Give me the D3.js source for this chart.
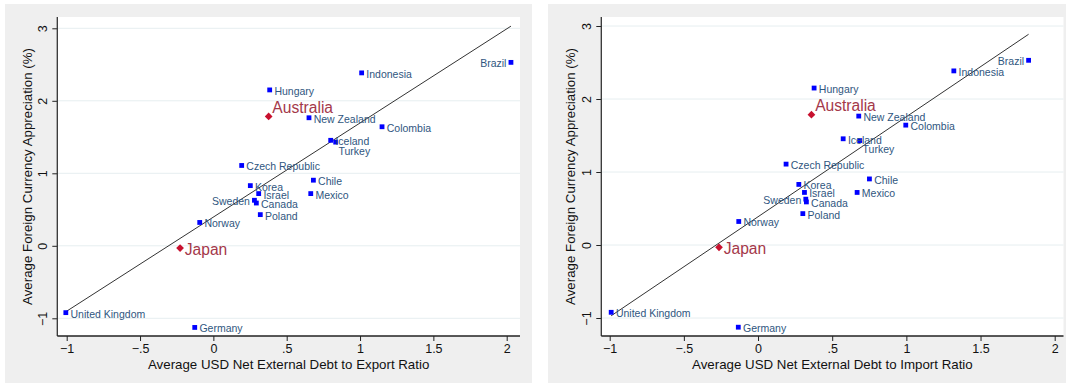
<!DOCTYPE html>
<html>
<head>
<meta charset="utf-8">
<script src="https://cdn.jsdelivr.net/npm/d3@7"></script>
<style>
  html, body { margin: 0; padding: 0; background: #ffffff; }
  svg { display: block; font-family: "Liberation Sans", Arial, Helvetica, sans-serif; }
</style>
</head>
<body>
<svg id="chart" width="1068" height="387"></svg>
<script>
// Countries and their averages
const countries = ["Brazil", "Indonesia", "Hungary", "Australia", "New Zealand", "Colombia",
  "Iceland", "Turkey", "Czech Republic", "Chile", "Korea", "Israel", "Mexico", "Sweden",
  "Canada", "Poland", "Norway", "Japan", "United Kingdom", "Germany"];

// Average USD net external debt relative to exports
const debtToExport = [2.029, 1.011, 0.384, 0.377, 0.652, 1.150, 0.800, 0.834, 0.193, 0.682,
  0.252, 0.309, 0.664, 0.280, 0.293, 0.320, -0.093, -0.227, -1.006, -0.127];

// Average USD net external debt relative to imports
const debtToImport = [1.824, 1.320, 0.378, 0.360, 0.679, 0.996, 0.574, 0.686, 0.189, 0.751,
  0.275, 0.313, 0.668, 0.322, 0.326, 0.302, -0.130, -0.263, -0.990, -0.133];

// Average foreign currency appreciation (%)
const appreciation = [2.530, 2.385, 2.150, 1.785, 1.766, 1.642, 1.455, 1.430, 1.108, 0.905,
  0.830, 0.720, 0.720, 0.628, 0.590, 0.430, 0.322, -0.032, -0.922, -1.126];

const highlighted = ["Australia", "Japan"];

const xTicks = [-1, -0.5, 0, 0.5, 1, 1.5, 2];
const yTicks = [-1, 0, 1, 2, 3];

const xTitles = ["Average USD Net External Debt to Export Ratio",
                 "Average USD Net External Debt to Import Ratio"];
const yTitle = "Average Foreign Currency Appreciation (%)";

// Stata-style number labels: no leading zero, true minus sign
const fmt = v => {
  let s = String(Math.abs(v)).replace(/^0\./, ".");
  return (v < 0 ? "\u2212" : "") + s;
};

// Marker label placement (clock positions)
const labelClock = { "Brazil": 9, "Sweden": 9, "Turkey": 4, "Australia": 2 };

const svg = d3.select("#chart");

const panels = [
  { xs: debtToExport, title: xTitles[0],
    bg: [5, 4, 527, 379], plot: [57.3, 17, 520, 336],
    xr: [66.7, 506.7], yr: [318.3, 28.3], ytitleX: 27, ytickX: 42.7 },
  { xs: debtToImport, title: xTitles[1],
    bg: [548, 4, 518, 379], plot: [601.3, 17, 1063.5, 336],
    xr: [609.7, 1054.7], yr: [318, 26], ytitleX: 570, ytickX: 586.5 }
];

panels.forEach(p => {
  const g = svg.append("g");
  const [px0, py0, px1, py1] = p.plot;

  g.append("rect").attr("x", p.bg[0]).attr("y", p.bg[1])
    .attr("width", p.bg[2]).attr("height", p.bg[3]).attr("fill", "#efefef");
  g.append("rect").attr("x", px0).attr("y", py0)
    .attr("width", px1 - px0).attr("height", py1 - py0).attr("fill", "#ffffff");

  const x = d3.scaleLinear().domain([-1, 2]).range(p.xr);
  const y = d3.scaleLinear().domain([-1, 3]).range(p.yr);

  // horizontal grid
  g.append("g").selectAll("line").data(yTicks).join("line")
    .attr("x1", px0).attr("x2", px1)
    .attr("y1", d => y(d)).attr("y2", d => y(d))
    .attr("stroke", "#e6eef0").attr("stroke-width", 1);

  // y axis
  const ya = g.append("g").attr("transform", `translate(${px0},0)`)
    .call(d3.axisLeft(y).tickValues(yTicks).tickSize(5).tickPadding(4).tickFormat(fmt));
  ya.select(".domain").remove();
  ya.selectAll(".tick line").attr("stroke", "#222").attr("stroke-width", 1);
  ya.selectAll(".tick text")
    .attr("x", null).attr("dy", null)
    .attr("text-anchor", "middle")
    .attr("dominant-baseline", "central")
    .attr("transform", `translate(${p.ytickX - px0},0) rotate(-90)`)
    .attr("font-size", "12.5px").attr("fill", "#111")
    .attr("font-family", "Liberation Sans, Arial, sans-serif");

  // x axis
  const xa = g.append("g").attr("transform", `translate(0,${py1})`)
    .call(d3.axisBottom(x).tickValues(xTicks).tickSize(5).tickPadding(3).tickFormat(fmt));
  xa.select(".domain").remove();
  xa.selectAll(".tick line").attr("stroke", "#222").attr("stroke-width", 1);
  xa.selectAll(".tick text")
    .attr("font-size", "12.5px").attr("fill", "#111")
    .attr("font-family", "Liberation Sans, Arial, sans-serif");

  // axis lines
  g.append("line").attr("x1", px0).attr("x2", px0).attr("y1", py0).attr("y2", py1)
    .attr("stroke", "#333").attr("stroke-width", 1.3);
  g.append("line").attr("x1", px0).attr("x2", px1).attr("y1", py1).attr("y2", py1)
    .attr("stroke", "#222").attr("stroke-width", 1.3);

  // titles
  g.append("text").attr("x", (px0 + px1) / 2).attr("y", 364.5)
    .attr("text-anchor", "middle").attr("dominant-baseline", "central")
    .attr("font-size", "13.3px").attr("fill", "#111").text(p.title);
  g.append("text")
    .attr("transform", `translate(${p.ytitleX},${(py0 + py1) / 2}) rotate(-90)`)
    .attr("text-anchor", "middle").attr("dominant-baseline", "central")
    .attr("font-size", "13.3px").attr("fill", "#111").text(yTitle);

  // least-squares fit over all countries
  const mx = d3.mean(p.xs), my = d3.mean(appreciation);
  const sxy = d3.sum(p.xs, (v, i) => (v - mx) * (appreciation[i] - my));
  const sxx = d3.sum(p.xs, v => (v - mx) * (v - mx));
  const slope = sxy / sxx, icept = my - slope * mx;
  const [xmin, xmax] = d3.extent(p.xs);
  g.append("line")
    .attr("x1", x(xmin)).attr("y1", y(icept + slope * xmin))
    .attr("x2", x(xmax)).attr("y2", y(icept + slope * xmax))
    .attr("stroke", "#333").attr("stroke-width", 1);

  const pts = countries.map((c, i) => ({ c, x: p.xs[i], y: appreciation[i], hi: highlighted.includes(c) }));

  // markers
  g.append("g").selectAll("rect").data(pts.filter(d => !d.hi)).join("rect")
    .attr("x", d => x(d.x) - 2.4).attr("y", d => y(d.y) - 2.4)
    .attr("width", 4.8).attr("height", 4.8).attr("fill", "#0000ff");
  g.append("g").selectAll("path").data(pts.filter(d => d.hi)).join("path")
    .attr("d", d3.symbol(d3.symbolDiamond2, 38))
    .attr("transform", d => `translate(${x(d.x)},${y(d.y)})`)
    .attr("fill", "#c8102e");

  // marker labels
  g.append("g").selectAll("text").data(pts).join("text")
    .attr("x", d => {
      const pos = labelClock[d.c] || 3;
      const cx = x(d.x);
      if (pos === 9) return cx - 4.5;
      if (pos === 4) return cx + 2.8;
      if (pos === 2) return cx + 3.7;
      return cx + 4.7;
    })
    .attr("y", d => {
      const pos = labelClock[d.c] || 3;
      const cy = y(d.y);
      if (pos === 4) return cy + 8.7;
      if (pos === 2) return cy - 9;
      return cy + 1;
    })
    .attr("text-anchor", d => (labelClock[d.c] === 9 ? "end" : "start"))
    .attr("dominant-baseline", "central")
    .attr("font-size", d => d.hi ? "15.6px" : "10.5px")
    .attr("fill", d => d.hi ? "#a4384a" : "#2f5680")
    .text(d => d.c);
});
</script>
</body>
</html>
